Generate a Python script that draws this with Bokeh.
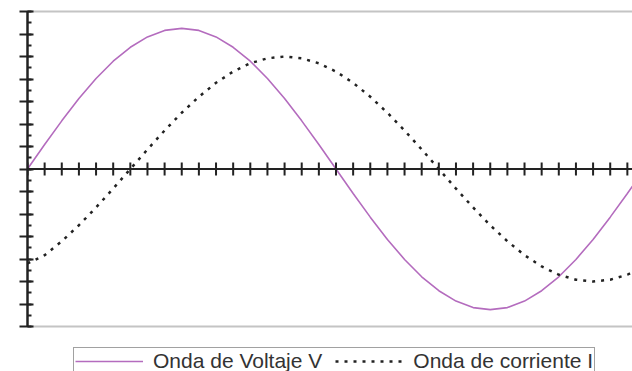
from bokeh.plotting import figure
from bokeh.layouts import column
from bokeh.models import (Legend, LegendItem, LinearAxis, FixedTicker,
                          SingleIntervalTicker, Span, Range1d)
from bokeh.embed import file_html
from bokeh.resources import INLINE

# Angle (degrees) sampled every 10 degrees
angle = [0, 10, 20, 30, 40, 50, 60, 70, 80, 90, 100, 110, 120, 130, 140, 150,
         160, 170, 180, 190, 200, 210, 220, 230, 240, 250, 260, 270, 280, 290,
         300, 310, 320, 330, 340, 350, 360]

# Voltage wave values
voltaje = [0.0, 1.09, 2.14, 3.13, 4.02, 4.79, 5.41, 5.87, 6.16, 6.25, 6.16,
           5.87, 5.41, 4.79, 4.02, 3.13, 2.14, 1.09, 0.0, -1.09, -2.14, -3.13,
           -4.02, -4.79, -5.41, -5.87, -6.16, -6.25, -6.16, -5.87, -5.41,
           -4.79, -4.02, -3.13, -2.14, -1.09, 0.0]

# Current wave values (lagging)
corriente = [-4.2, -3.83, -3.21, -2.5, -1.71, -0.87, 0.0, 0.87, 1.71, 2.5,
             3.21, 3.83, 4.33, 4.70, 4.92, 5.0, 4.92, 4.70, 4.33, 3.83, 3.21,
             2.5, 1.71, 0.87, 0.0, -0.87, -1.71, -2.5, -3.21, -3.83, -4.33,
             -4.70, -4.92, -5.0, -4.92, -4.70, -4.33]

x_ticks = [0, 10, 20, 30, 40, 50, 60, 70, 80, 90, 100, 110, 120, 130, 140,
           150, 160, 170, 180, 190, 200, 210, 220, 230, 240, 250, 260, 270,
           280, 290, 300, 310, 320, 330, 340, 350]

labels = ["Onda de Voltaje V", "Onda de corriente I"]

V_STYLE = dict(line_color="#b46cbe", line_width=1.6)
I_STYLE = dict(line_color="#222222", line_width=2.5, line_dash="3 6")

p = figure(width=632, height=335, x_range=Range1d(0, 353), y_range=Range1d(-7, 7),
           output_backend="svg", toolbar_location=None,
           min_border_left=27, min_border_right=0, min_border_top=11,
           min_border_bottom=9, outline_line_color=None,
           background_fill_color="white", border_fill_color="white")
p.grid.visible = False

# Left (vertical) axis
yax = p.yaxis[0]
yax.ticker = SingleIntervalTicker(interval=1, num_minor_ticks=2)
yax.major_label_text_font_size = "1px"
yax.major_label_text_color = None
yax.major_label_standoff = 0
yax.axis_line_color = "#222222"
yax.axis_line_width = 2.5
yax.major_tick_line_color = "#222222"
yax.major_tick_line_width = 2
yax.major_tick_in = 6
yax.major_tick_out = 8
yax.minor_tick_line_color = "#222222"
yax.minor_tick_line_width = 2
yax.minor_tick_in = 4
yax.minor_tick_out = 0

# Bottom and top gray frame lines via tickless axes
def frame_axis(ax):
    ax.ticker = FixedTicker(ticks=[])
    ax.major_label_standoff = 0
    ax.major_tick_in = 0
    ax.major_tick_out = 0
    ax.minor_tick_in = 0
    ax.minor_tick_out = 0
    ax.axis_line_color = "#c4c4c4"
    ax.axis_line_width = 2

frame_axis(p.xaxis[0])
top_ax = LinearAxis()
frame_axis(top_ax)
p.add_layout(top_ax, "above")

p.line(angle, voltaje, **V_STYLE)
p.line(angle, corriente, **I_STYLE)

# Horizontal axis through zero with tick marks
p.add_layout(Span(location=0, dimension="width", line_color="#222222",
                  line_width=2))
p.segment(x0=x_ticks, y0=-0.29, x1=x_ticks, y1=0.29,
          line_color="#222222", line_width=2)

# Legend strip below the chart (its renderers sit outside the visible range)
p2 = figure(width=632, height=36, x_range=Range1d(0, 1), y_range=Range1d(0, 1),
            output_backend="svg", toolbar_location=None,
            x_axis_location=None, y_axis_location=None,
            min_border_left=0, min_border_right=0, min_border_top=0,
            min_border_bottom=0, outline_line_color=None,
            background_fill_color="white", border_fill_color="white")
p2.grid.visible = False
lv = p2.line([5, 6], [5, 6], **V_STYLE)
li = p2.line([5, 6], [5, 6], **I_STYLE)

legend = Legend(items=[LegendItem(label=labels[0], renderers=[lv]),
                       LegendItem(label=labels[1], renderers=[li])],
                orientation="horizontal", location=(46, -4),
                glyph_width=68, glyph_height=20, label_standoff=10,
                spacing=13, padding=1, margin=0,
                border_line_color="#444444", border_line_width=1.5,
                label_text_font="Liberation Sans", label_text_font_size="21px",
                label_text_color="#333333", background_fill_color="white")
p2.add_layout(legend, "center")

layout = column(p, p2, spacing=0)
open("out.html", "w").write(file_html(layout, INLINE))
